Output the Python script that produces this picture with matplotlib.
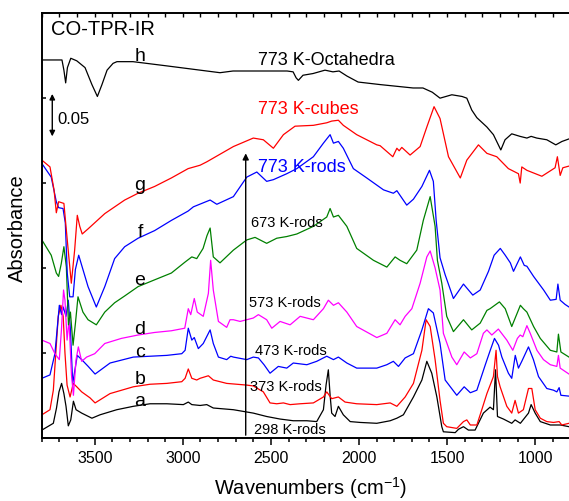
import matplotlib
matplotlib.use('Agg')
import matplotlib.pyplot as plt
from matplotlib.ticker import MultipleLocator, NullFormatter
import numpy as np

plt.rcParams['font.family'] = ['Liberation Sans', 'DejaVu Sans']
plt.rcParams['mathtext.default'] = 'regular'

# CO-TPR IR spectra, wavenumber (cm-1) vs absorbance (mAbs, stacked offsets included)
a_wn = [3800, 3735, 3717, 3703, 3688, 3675, 3663, 3650, 3636, 3621, 3606, 3574, 3516, 3470, 3375,
        3281, 3186, 3091, 2997, 2969, 2949, 2902, 2864, 2827, 2713, 2600, 2524, 2448, 2373, 2296,
        2240, 2202, 2187, 2174, 2164, 2155, 2136, 2117, 2089, 2050, 1993, 1899, 1823, 1785, 1748,
        1691, 1643, 1615, 1587, 1558, 1530, 1521, 1454, 1435, 1407, 1379, 1341, 1294, 1256, 1237,
        1225, 1214, 1180, 1133, 1114, 1084, 1038, 1023, 1000, 971, 914, 857, 808]
a_abs = [9, 17, 35, 54, 64, 52, 37, 14, 21, 43, 33, 29, 23, 27, 33,
         37, 40, 40, 39, 42, 39, 38, 39, 35, 33, 29, 25, 22, 20, 20,
         19, 33, 62, 80, 50, 29, 25, 37, 27, 19, 18, 17, 20, 23, 27,
         48, 68, 90, 76, 48, 13, 7, 6, 10, 13, 9, 9, 29, 36, 33,
         80, 25, 22, 17, 21, 17, 29, 39, 29, 19, 15, 15, 13]

b_wn = [3800, 3754, 3735, 3720, 3707, 3692, 3679, 3669, 3657, 3640, 3622, 3602, 3574, 3527, 3498,
        3413, 3281, 3186, 3091, 3006, 2987, 2969, 2949, 2921, 2902, 2855, 2827, 2751, 2637, 2600,
        2543, 2505, 2467, 2429, 2391, 2334, 2259, 2202, 2183, 2155, 2117, 2079, 2013, 1899, 1823,
        1785, 1738, 1691, 1643, 1619, 1596, 1568, 1540, 1521, 1502, 1445, 1407, 1388, 1368, 1331,
        1303, 1274, 1237, 1222, 1214, 1199, 1161, 1133, 1114, 1095, 1067, 1038, 1019, 1000, 971,
        934, 896, 864, 849, 808]
b_abs = [27, 33, 56, 103, 143, 156, 143, 100, 62, 48, 64, 60, 54, 47, 41,
         52, 60, 63, 64, 66, 70, 81, 70, 68, 70, 73, 68, 64, 62, 61,
         54, 41, 40, 41, 39, 40, 41, 48, 54, 46, 48, 42, 40, 39, 41,
         37, 48, 64, 103, 139, 131, 92, 44, 17, 13, 11, 19, 21, 15, 15,
         33, 52, 72, 103, 72, 60, 37, 29, 44, 29, 33, 58, 58, 33, 23,
         19, 18, 19, 15, 17]

c_wn = [3800, 3754, 3726, 3701, 3688, 3679, 3663, 3650, 3638, 3625, 3599, 3574, 3537, 3498, 3413,
        3281, 3186, 3091, 3006, 2987, 2969, 2949, 2935, 2912, 2884, 2845, 2827, 2798, 2751, 2728,
        2713, 2637, 2600, 2571, 2539, 2505, 2458, 2410, 2373, 2296, 2240, 2183, 2145, 2117, 2069,
        2013, 1899, 1842, 1805, 1776, 1738, 1691, 1643, 1606, 1578, 1540, 1511, 1445, 1403, 1368,
        1331, 1283, 1255, 1231, 1208, 1189, 1152, 1133, 1113, 1095, 1076, 1038, 1010, 981, 934,
        896, 877, 864, 854, 808]
c_abs = [70, 74, 99, 156, 145, 154, 143, 162, 127, 64, 97, 92, 84, 75, 88,
         95, 96, 97, 99, 103, 129, 115, 118, 105, 111, 127, 111, 95, 92, 96,
         95, 92, 95, 94, 86, 76, 84, 82, 88, 86, 90, 96, 92, 95, 88,
         82, 82, 86, 90, 84, 94, 99, 127, 152, 147, 111, 68, 50, 60, 53,
         56, 86, 103, 117, 109, 95, 76, 70, 97, 82, 90, 107, 92, 72, 58,
         56, 54, 59, 50, 49]

d_wn = [3800, 3754, 3726, 3701, 3689, 3677, 3669, 3657, 3646, 3632, 3621, 3606, 3593, 3574, 3546,
        3500, 3481, 3443, 3349, 3254, 3160, 3065, 2989, 2969, 2955, 2935, 2918, 2884, 2855, 2842,
        2827, 2798, 2751, 2732, 2713, 2675, 2600, 2571, 2524, 2495, 2448, 2391, 2334, 2259, 2202,
        2174, 2145, 2117, 2069, 2013, 1899, 1842, 1795, 1767, 1738, 1700, 1653, 1615, 1596, 1568,
        1540, 1521, 1473, 1445, 1403, 1368, 1331, 1294, 1274, 1246, 1209, 1161, 1127, 1101, 1085,
        1070, 1047, 1028, 990, 953, 914, 877, 868, 858, 808]
d_abs = [115, 111, 99, 92, 127, 174, 162, 115, 139, 74, 50, 92, 107, 90, 95,
         99, 103, 111, 117, 121, 124, 126, 129, 152, 145, 164, 148, 143, 170, 209,
         174, 137, 130, 139, 139, 137, 141, 145, 139, 129, 137, 133, 143, 139, 152,
         162, 156, 159, 148, 131, 118, 123, 139, 133, 143, 152, 182, 213, 220, 200,
         174, 123, 95, 86, 101, 94, 99, 123, 127, 121, 128, 115, 103, 117, 121,
         119, 132, 123, 103, 92, 86, 84, 97, 82, 75]

e_wn = [3800, 3747, 3718, 3705, 3690, 3675, 3661, 3649, 3638, 3623, 3609, 3595, 3567, 3538, 3491,
        3443, 3387, 3330, 3254, 3160, 3065, 2987, 2949, 2921, 2885, 2863, 2845, 2827, 2789, 2713,
        2637, 2590, 2524, 2467, 2410, 2353, 2259, 2183, 2164, 2145, 2117, 2069, 2013, 1918, 1842,
        1795, 1767, 1729, 1672, 1635, 1596, 1568, 1555, 1530, 1502, 1464, 1407, 1360, 1312, 1274,
        1256, 1203, 1170, 1133, 1084, 1067, 1047, 1009, 971, 914, 877, 868, 854, 808]
e_abs = [233, 215, 194, 190, 205, 225, 201, 133, 148, 109, 136, 166, 148, 139, 133,
         148, 159, 167, 178, 186, 194, 207, 213, 211, 223, 238, 247, 213, 206, 221,
         233, 236, 229, 235, 237, 240, 249, 260, 270, 260, 262, 249, 223, 209, 201,
         213, 209, 205, 221, 256, 284, 249, 209, 182, 143, 125, 139, 127, 135, 150,
         152, 160, 152, 131, 156, 152, 148, 131, 117, 103, 101, 122, 101, 95]

f_wn = [3800, 3747, 3718, 3705, 3680, 3667, 3656, 3642, 3623, 3610, 3591, 3571, 3538, 3491, 3443,
        3387, 3330, 3254, 3160, 3065, 2970, 2940, 2845, 2807, 2713, 2637, 2580, 2524, 2486, 2410,
        2353, 2259, 2202, 2164, 2145, 2117, 2089, 2032, 1956, 1861, 1805, 1785, 1729, 1691, 1643,
        1600, 1578, 1562, 1540, 1511, 1464, 1407, 1354, 1312, 1265, 1233, 1198, 1170, 1141, 1123,
        1084, 1062, 1047, 1009, 952, 914, 881, 871, 858, 830, 808]
f_abs = [323, 307, 278, 271, 270, 253, 194, 166, 166, 198, 215, 201, 178, 154, 178,
         211, 225, 235, 244, 256, 267, 272, 280, 275, 284, 307, 313, 302, 304, 311,
         317, 331, 347, 357, 347, 349, 341, 317, 306, 292, 288, 291, 274, 281, 296,
         315, 302, 256, 212, 192, 164, 181, 168, 174, 196, 215, 223, 215, 206, 196,
         213, 203, 202, 190, 174, 162, 163, 181, 162, 157, 154]

g_wn = [3800, 3754, 3731, 3718, 3705, 3675, 3656, 3633, 3614, 3599, 3585, 3571, 3538, 3443, 3330,
        3254, 3160, 3065, 2970, 2902, 2864, 2713, 2600, 2543, 2486, 2429, 2363, 2259, 2183, 2155,
        2117, 2089, 2013, 1899, 1880, 1808, 1785, 1772, 1757, 1710, 1653, 1615, 1574, 1540, 1492,
        1425, 1388, 1322, 1274, 1218, 1152, 1095, 1085, 1076, 1047, 962, 887, 874, 858, 843, 808]
g_abs = [327, 319, 292, 265, 278, 276, 233, 182, 221, 262, 249, 240, 246, 264, 280,
         288, 296, 306, 317, 321, 325, 343, 353, 351, 341, 357, 367, 368, 371, 373,
         374, 368, 357, 345, 344, 331, 341, 338, 342, 333, 343, 366, 390, 376, 331,
         306, 327, 345, 335, 331, 317, 311, 300, 319, 315, 308, 318, 331, 309, 318, 320]

h_wn = [3800, 3686, 3675, 3665, 3655, 3636, 3602, 3555, 3516, 3485, 3459, 3430, 3396, 3374, 3283,
        3090, 2902, 2789, 2715, 2561, 2408, 2374, 2357, 2344, 2318, 2261, 2193, 2148, 2113, 2068,
        2005, 1880, 1693, 1637, 1584, 1540, 1473, 1415, 1388, 1360, 1331, 1274, 1237, 1195, 1171,
        1133, 1086, 1047, 1023, 991, 934, 883, 848, 808]
h_abs = [445, 445, 433, 418, 436, 447, 444, 436, 416, 402, 416, 433, 441, 443, 443,
         438, 433, 430, 432, 432, 432, 431, 424, 421, 427, 429, 433, 431, 432, 426,
         419, 416, 412, 412, 407, 400, 404, 402, 400, 386, 377, 366, 357, 339, 351,
         358, 355, 353, 355, 353, 351, 345, 349, 352]

letters = ['a', 'b', 'c', 'd', 'e', 'f', 'g', 'h']
samples = ['298 K-rods', '373 K-rods', '473 K-rods', '573 K-rods', '673 K-rods',
           '773 K-rods', '773 K-cubes', '773 K-Octahedra']
colors = ['black', 'red', 'blue', 'magenta', 'green', 'blue', 'red', 'black']
spectra = [(a_wn, a_abs), (b_wn, b_abs), (c_wn, c_abs), (d_wn, d_abs),
           (e_wn, e_abs), (f_wn, f_abs), (g_wn, g_abs), (h_wn, h_abs)]

# label anchors (wavenumber, absorbance in mAbs) for the letters and sample names
letter_pos = [(3243, 37), (3243, 63), (3243, 95), (3243, 122),
              (3243, 180), (3243, 236), (3243, 292), (3243, 444)]
sample_pos = [(2596, 4), (2618, 55), (2590, 97), (2622, 154),
              (2614, 248), (2571, 313), (2571, 381), (2571, 439)]
sample_size = [10.5, 10.5, 10.5, 10.5, 10.5, 13, 13, 13]
sample_color = ['black', 'black', 'black', 'black', 'black', 'blue', 'red', 'black']

fig = plt.figure(figsize=(5.69, 5.01), dpi=100)
ax = fig.add_axes([0.0736, 0.1263, 0.9264, 0.8472])

for (wn, ab), col in zip(spectra, colors):
    assert len(wn) == len(ab)
    ax.plot(wn, np.array(ab) / 1000.0, color=col, lw=0.9, solid_joinstyle='round')

for lab, (x, y) in zip(letters, letter_pos):
    ax.text(x, y / 1000.0, lab, fontsize=14, ha='center', va='baseline')
for lab, (x, y), fs, col in zip(samples, sample_pos, sample_size, sample_color):
    ax.text(x, y / 1000.0, lab, fontsize=fs, color=col, ha='left', va='baseline')

ax.text(3750, 0.474, 'CO-TPR-IR', fontsize=14.5, ha='left', va='baseline')

# 0.05 absorbance scale bar
ax.annotate('', xy=(3741, 0.405), xytext=(3741, 0.355),
            arrowprops=dict(arrowstyle='<|-|>', color='black', lw=1, mutation_scale=8,
                            shrinkA=0, shrinkB=0))
ax.text(3713, 0.370, '0.05', fontsize=12, ha='left', va='baseline')

# increasing reduction temperature
ax.annotate('', xy=(2643, 0.335), xytext=(2643, 0.003),
            arrowprops=dict(arrowstyle='-|>', color='black', lw=1, mutation_scale=9,
                            shrinkA=0, shrinkB=0))

ax.set_xlim(3800, 808)
ax.set_ylim(0, 0.5)
ax.xaxis.set_major_locator(MultipleLocator(500))
ax.xaxis.set_minor_locator(MultipleLocator(100))
ax.set_yticks([0.1, 0.2, 0.3, 0.4])
ax.yaxis.set_major_formatter(NullFormatter())
ax.tick_params(axis='x', which='major', direction='out', length=5, width=1.1,
               labelsize=11.5, pad=4.5, top=False)
ax.tick_params(axis='x', which='minor', direction='out', length=3.2, width=1.1, top=False)
ax.tick_params(axis='y', which='both', direction='in', length=3, width=1.1, left=True, right=False)
ax.spines['right'].set_visible(False)
for sp in ['left', 'bottom', 'top']:
    ax.spines[sp].set_linewidth(1.4)

# short inward ticks along the top frame
ax_top = ax.twiny()
ax_top.set_xlim(ax.get_xlim())
ax_top.xaxis.set_major_locator(MultipleLocator(500))
ax_top.xaxis.set_minor_locator(MultipleLocator(100))
ax_top.tick_params(axis='x', which='both', direction='in', length=2.8, width=1.0,
                   labeltop=False, top=True, bottom=False)
for sp in ax_top.spines.values():
    sp.set_visible(False)

fig.text(17 / 569, 1 - 228 / 501, 'Absorbance', rotation=90, fontsize=14.5,
         ha='center', va='center')
fig.text(311 / 569, 1 - 495 / 501, r'Wavenumbers (cm$^{-1}$)', fontsize=14.5,
         ha='center', va='baseline')

fig.savefig('out.png', dpi=100)
